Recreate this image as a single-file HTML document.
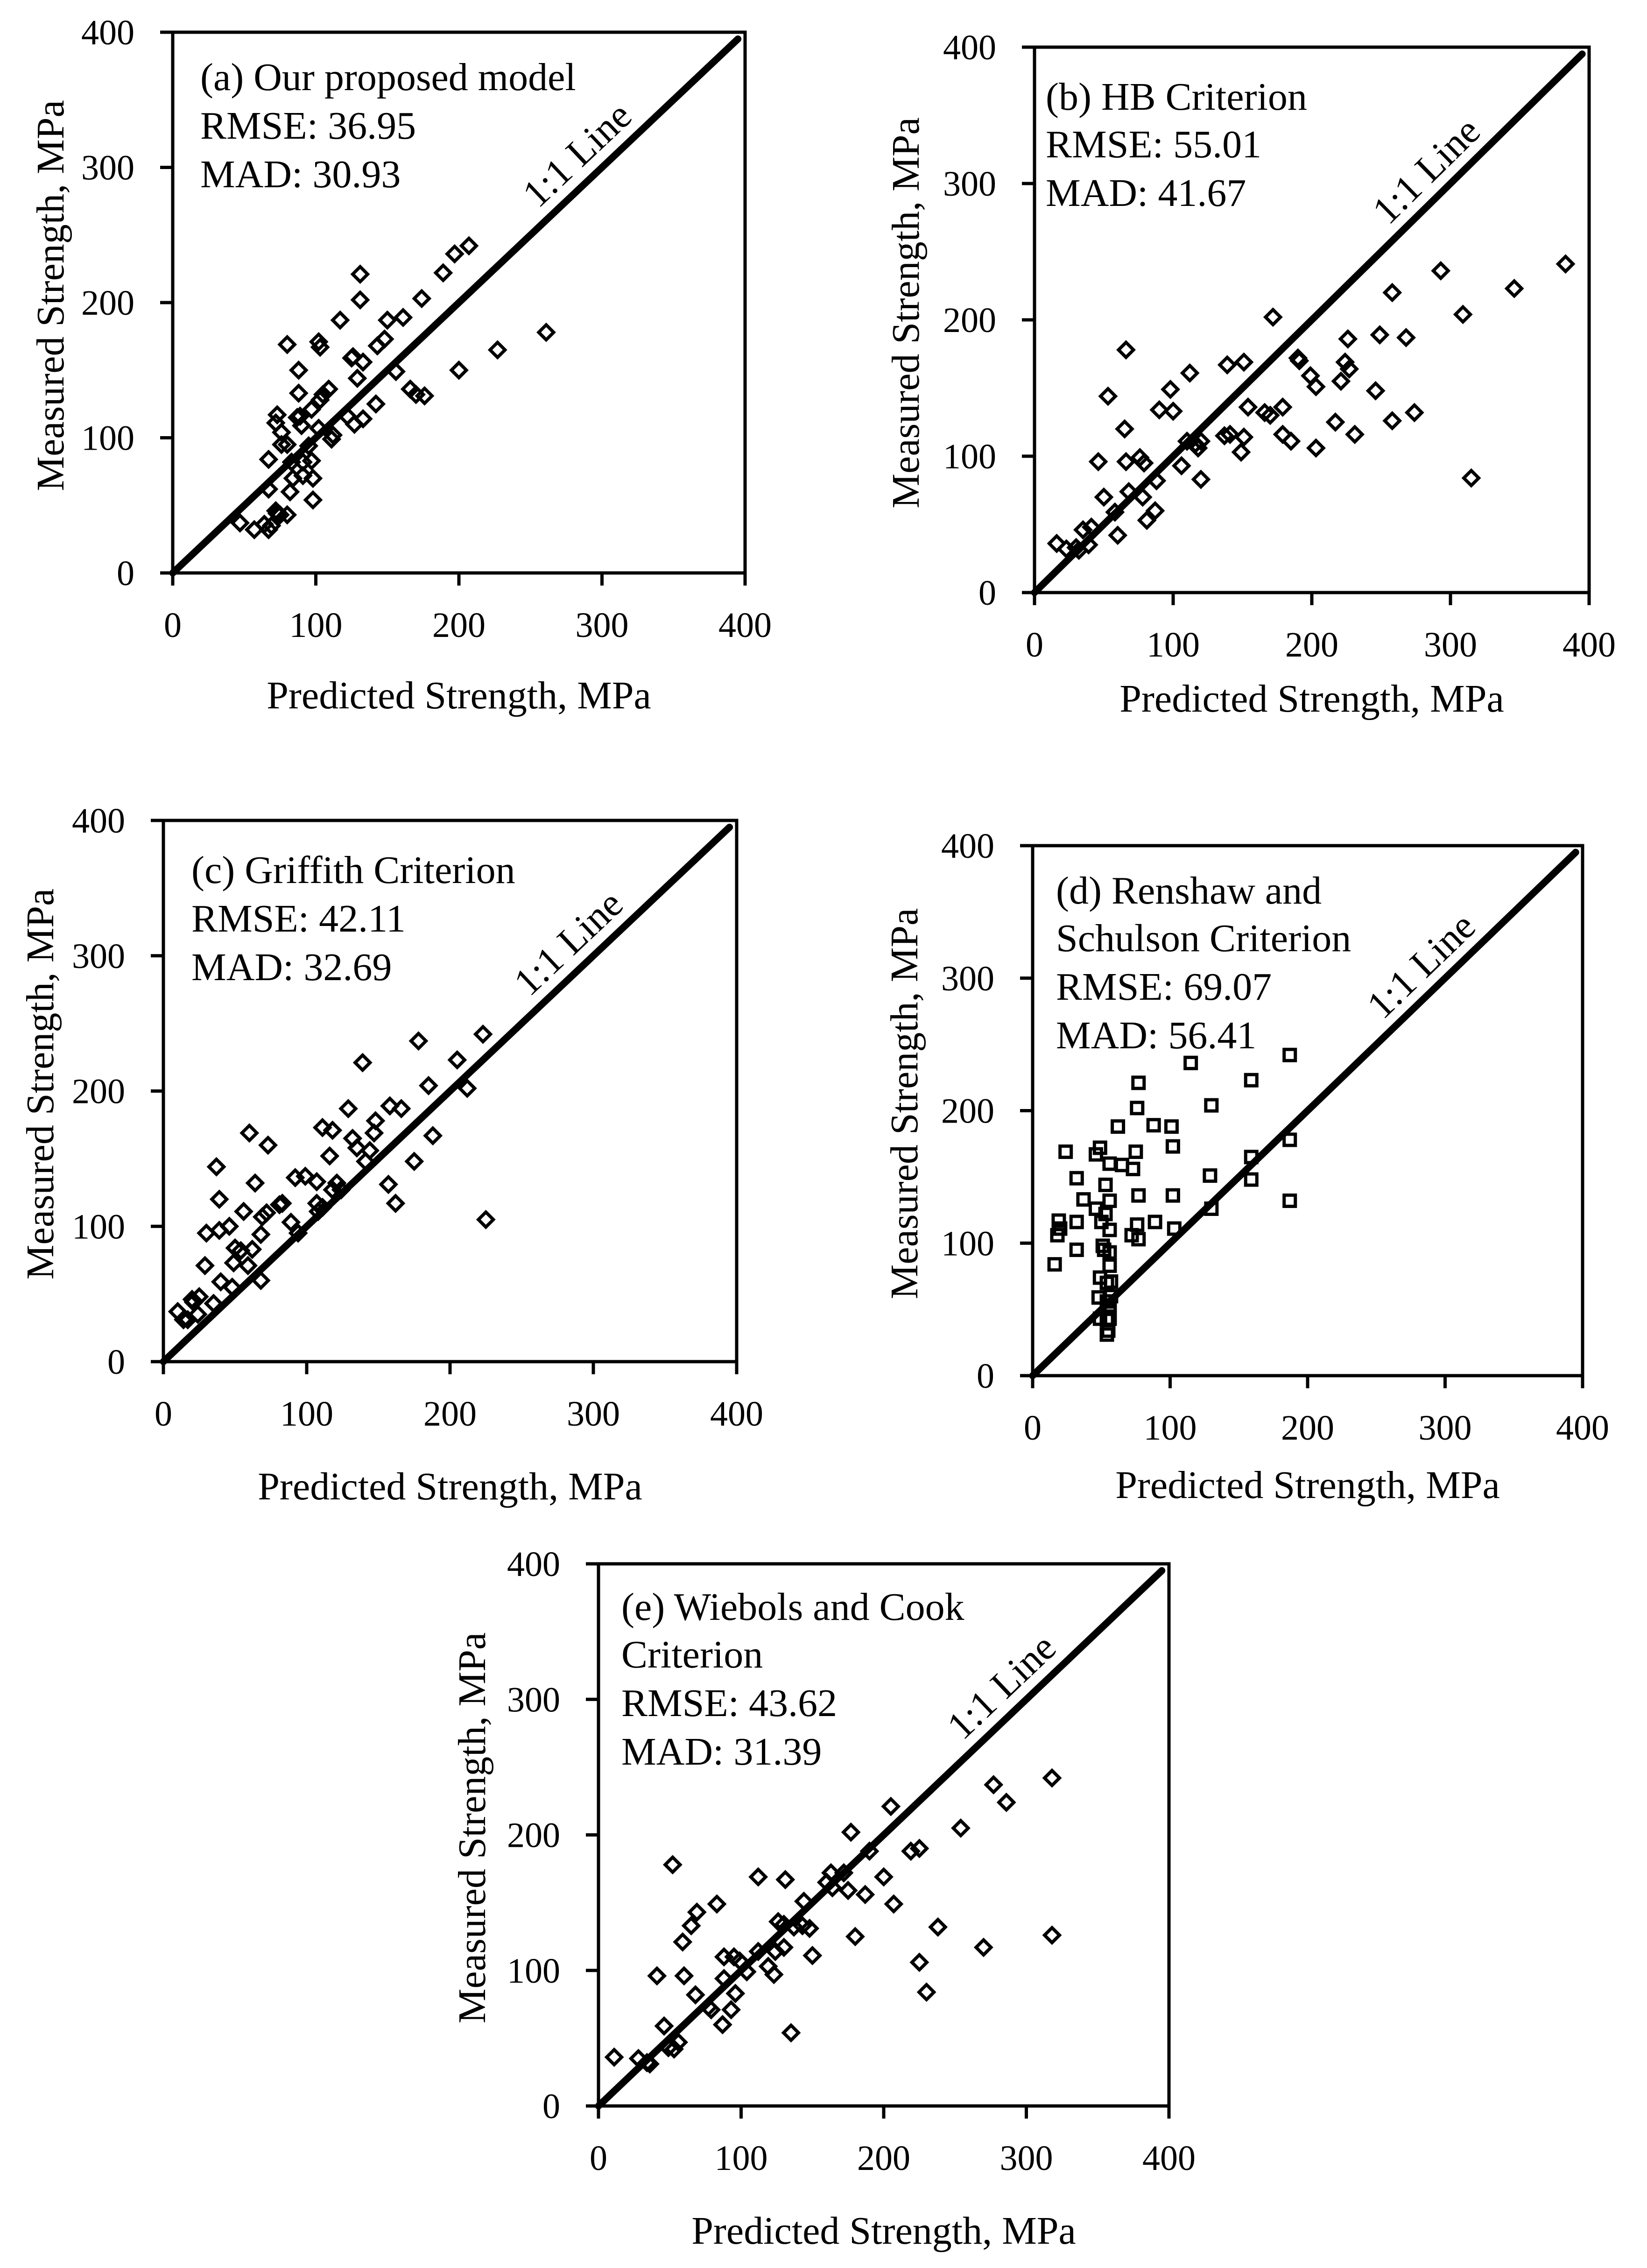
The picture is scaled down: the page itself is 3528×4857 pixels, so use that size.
<!DOCTYPE html>
<html><head><meta charset="utf-8"><style>
html,body{margin:0;padding:0;background:#fff;}
svg{display:block;font-family:"Liberation Serif","DejaVu Serif",serif;}
</style></head><body>
<svg id="fig" xmlns="http://www.w3.org/2000/svg" width="3528" height="4857" viewBox="0 0 3528 4857"></svg>
<script>
// tick values shared by all panels
const ticks = [0, 100, 200, 300, 400];

// (a) Our proposed model
const aX = [47,57,64,67,67,67,69,72,73,75,80,82,73,72,76,76,80,80,83,84,87,88,88,89,90,91,97,97,98,98,102,102,103,103,105,111,112,109,117,122,125,126,127,129,131,131,133,133,142,143,148,150,156,161,166,170,174,176,189,197,207,200,227,261,95,91];
const aY = [37,32,36,62,84,32,35,46,44,43,43,60,117,111,104,95,95,169,82,70,115,150,133,116,109,72,121,83,70,54,107,171,167,128,132,99,102,136,187,116,159,160,110,144,221,202,114,156,125,168,173,187,149,189,136,132,203,131,222,236,242,150,165,178,94,82];
// (b) HB Criterion
const bX = [16,23,30,32,35,39,41,46,50,53,58,60,65,66,66,68,76,78,79,81,87,88,90,98,100,106,112,110,116,118,120,120,137,139,141,149,151,151,154,166,170,172,179,179,185,190,191,199,203,203,217,221,224,227,226,231,246,249,258,258,268,274,293,309,315,346,383];
const bY = [36,32,33,31,46,35,48,96,70,144,59,42,120,178,96,74,99,70,95,53,60,82,134,149,133,93,161,111,109,106,111,83,115,167,116,103,114,169,136,132,130,202,136,116,111,172,170,159,151,106,125,155,169,164,186,116,148,189,220,126,187,132,236,204,84,223,241];
// (c) Griffith Criterion
const cX = [10,14,17,20,21,24,25,29,30,35,37,39,39,40,46,48,49,50,54,56,59,60,62,64,68,68,69,72,73,81,83,89,92,94,99,107,107,108,111,111,116,118,118,121,124,129,132,135,141,139,144,147,148,157,158,162,166,175,178,185,188,205,212,223,225];
const cY = [37,31,31,46,44,35,48,71,95,43,144,120,97,59,100,55,73,84,82,111,71,169,83,132,60,94,107,110,160,116,117,103,136,95,137,133,117,111,173,114,152,171,127,132,127,187,165,158,148,221,156,169,178,131,189,117,187,148,237,204,167,223,202,242,105];
// (d) Renshaw and Schulson Criterion
const dX = [16,18,19,20,24,32,32,32,37,46,46,49,49,48,49,50,51,52,53,53,54,54,54,55,54,56,56,56,56,56,56,56,57,57,62,65,72,73,75,76,77,77,76,77,88,89,101,102,102,103,115,130,129,130,159,159,159,187,187,187];
const dY = [84,106,117,111,169,95,116,149,133,126,167,172,74,59,43,116,98,95,144,122,70,56,42,34,31,43,132,110,83,93,160,53,71,60,188,159,106,156,169,202,221,136,114,103,189,116,188,173,136,111,236,204,151,126,223,165,148,242,178,132];
// (e) Wiebols and Cook Criterion
const eX = [11,28,34,36,41,46,49,53,56,52,59,60,65,69,68,77,79,83,87,88,88,93,95,96,99,104,112,112,119,123,124,126,130,131,130,135,137,143,144,148,150,160,163,164,172,175,177,180,187,190,200,205,207,219,225,225,230,238,254,270,277,286,318,318];
const eY = [36,35,32,31,96,59,43,42,47,178,121,96,133,143,82,73,71,149,60,110,94,71,110,83,107,99,169,114,103,97,114,136,117,167,134,54,132,133,151,131,111,165,172,161,172,159,202,125,156,188,169,221,149,188,190,106,84,132,205,117,237,224,242,126];

const panels = [
  {id:'a', L:370, R:1596, T:69, B:1227, xs:aX, ys:aY, marker:'diamond', tx:59, ty:[124,228,332], ytx:-234, xtb:290,
   lines:['(a) Our proposed model','RMSE: 36.95','MAD: 30.93']},
  {id:'b', L:2216, R:3404, T:101, B:1269, xs:bX, ys:bY, marker:'diamond', tx:24, ty:[134,236,340], ytx:-248, xtb:255,
   lines:['(b) HB Criterion','RMSE: 55.01','MAD: 41.67']},
  {id:'c', L:350, R:1578, T:1757, B:2916, xs:cX, ys:cY, marker:'diamond', tx:60, ty:[134,238,342], ytx:-236, xtb:295,
   lines:['(c) Griffith Criterion','RMSE: 42.11','MAD: 32.69']},
  {id:'d', L:2212, R:3390, T:1811, B:2946, xs:dX, ys:dY, marker:'square', tx:50, ty:[124,226,330,434], ytx:-247, xtb:262,
   lines:['(d) Renshaw and','Schulson Criterion','RMSE: 69.07','MAD: 56.41']},
  {id:'e', L:1282, R:2504, T:3349, B:4510, xs:eX, ys:eY, marker:'diamond', tx:49, ty:[120,222,326,430], ytx:-243, xtb:295,
   lines:['(e) Wiebols and Cook','Criterion','RMSE: 43.62','MAD: 31.39']}
];

const NS = 'http://www.w3.org/2000/svg';
const svg = document.getElementById('fig');
function mk(tag, attrs, parent){
  const el = document.createElementNS(NS, tag);
  for (const k in attrs) el.setAttribute(k, attrs[k]);
  parent.appendChild(el);
  return el;
}

panels.forEach(p => {
  const sx = v => p.L + (v/400)*(p.R-p.L);
  const sy = v => p.B - (v/400)*(p.B-p.T);
  const g = mk('g', {}, svg);
  
  

  const ln = mk('line', {x1:sx(0), y1:sy(0), x2:sx(395), y2:sy(395), stroke:'#000', 'stroke-width':15, 'stroke-linecap':'round'}, g);
  
  

  const pg = mk('g', {fill:'none', stroke:'#000', 'stroke-width':7}, g);
  
  
  for (let i=0;i<p.xs.length;i++){
    const cx = sx(p.xs[i]), cy = sy(p.ys[i]);
    let m;
    if (p.marker==='diamond'){
      const r=16;
      m = mk('polygon', {points:`${cx},${cy-r} ${cx+r},${cy} ${cx},${cy+r} ${cx-r},${cy}`}, pg);
    } else {
      const h=12;
      m = mk('rect', {x:cx-h, y:cy-h, width:2*h, height:2*h}, pg);
    }
    
    
  }

  const fr = mk('rect', {x:p.L, y:p.T, width:p.R-p.L, height:p.B-p.T, fill:'none', stroke:'#000', 'stroke-width':7}, g);
  
  

  ticks.forEach(t => {
    const xt = mk('line', {x1:sx(t), y1:p.B, x2:sx(t), y2:p.B+27, stroke:'#000', 'stroke-width':7}, g);
    
    
    const yt = mk('line', {x1:p.L-27, y1:sy(t), x2:p.L, y2:sy(t), stroke:'#000', 'stroke-width':7}, g);
    
    
    const xl = mk('text', {x:sx(t), y:p.B+137, 'font-size':76, 'text-anchor':'middle'}, g);
    xl.textContent = String(t);
    
    
    const yl = mk('text', {x:p.L-82, y:sy(t)+26, 'font-size':76, 'text-anchor':'end'}, g);
    yl.textContent = String(t);
    
    
  });

  const xtit = mk('text', {x:(p.L+p.R)/2, y:p.B+p.xtb, 'font-size':84, 'text-anchor':'middle'}, g);
  xtit.textContent = 'Predicted Strength, MPa';
  
  
  const yx = p.L + p.ytx, yy = (p.T+p.B)/2 - 15;
  const ytit = mk('text', {x:yx, y:yy, 'font-size':84, 'text-anchor':'middle', transform:`rotate(-90 ${yx} ${yy})`}, g);
  ytit.textContent = 'Measured Strength, MPa';
  
  

  p.lines.forEach((s, i) => {
    const t = mk('text', {x:p.L+p.tx, y:p.T+p.ty[i], 'font-size':84}, g);
    t.textContent = s;
    
    
  });

  const ang = Math.atan2(p.B-p.T, p.R-p.L)*180/Math.PI;
  const lx = sx(283), ly = sy(309);
  const lab = mk('text', {x:lx, y:ly+26, 'font-size':84, 'text-anchor':'middle', transform:`rotate(${-ang} ${lx} ${ly})`}, g);
  lab.textContent = '1:1 Line';
  
  
});
</script>
</body></html>
